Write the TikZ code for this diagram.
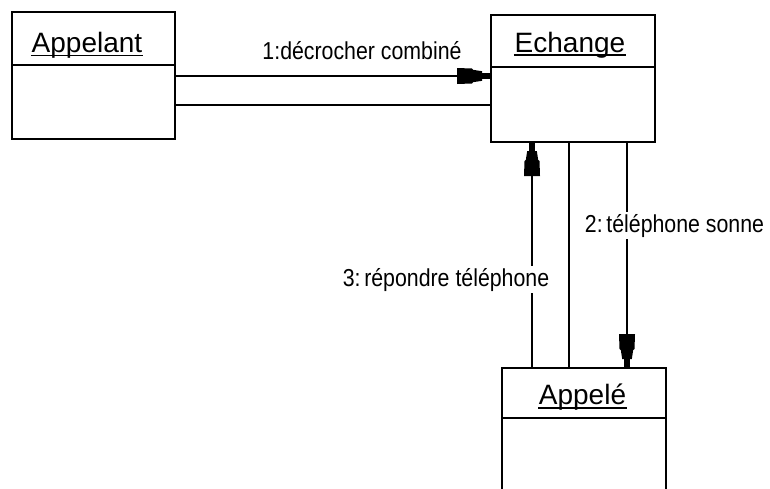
\documentclass[tikz,border=0pt]{standalone}
\usepackage{fontspec}
\setmainfont{Liberation Sans}
\newfontfamily\msgfont[FakeStretch=0.87]{Liberation Sans}
\usetikzlibrary{calc,arrows.meta}

\pgfdeclarearrow{
  name=UMLhead,
  setup code={
    \pgfarrowssettipend{0pt}
    \pgfarrowssetlineend{-2pt}
    \pgfarrowssetbackend{-34pt}
    \pgfarrowssetvisualbackend{-34pt}
    \pgfarrowshullpoint{0pt}{3pt}
    \pgfarrowshullpoint{0pt}{-3pt}
    \pgfarrowshullpoint{-34pt}{8pt}
    \pgfarrowshullpoint{-34pt}{-8pt}
  },
  drawing code={
    \pgfpathmoveto{\pgfpoint{0.5pt}{2.9pt}}
    \pgfpathlineto{\pgfpoint{-9pt}{2.9pt}}
    \pgfpathlineto{\pgfpoint{-9pt}{4.8pt}}
    \pgfpathlineto{\pgfpoint{-18pt}{6.2pt}}
    \pgfpathlineto{\pgfpoint{-19pt}{7.5pt}}
    \pgfpathlineto{\pgfpoint{-34pt}{8pt}}
    \pgfpathlineto{\pgfpoint{-34pt}{-8pt}}
    \pgfpathlineto{\pgfpoint{-19pt}{-7.5pt}}
    \pgfpathlineto{\pgfpoint{-18pt}{-6.2pt}}
    \pgfpathlineto{\pgfpoint{-9pt}{-4.8pt}}
    \pgfpathlineto{\pgfpoint{-9pt}{-2.9pt}}
    \pgfpathlineto{\pgfpoint{0.5pt}{-2.9pt}}
    \pgfpathclose
    \pgfusepathqfill
  },
}

\begin{document}
\begin{tikzpicture}[x=1pt,y=-1pt,line width=1.6pt,
  classbox/.style={draw,inner sep=0pt,outer sep=0pt,minimum width=#1,minimum height=127pt},
  classtitle/.style={font=\fontsize{28}{30}\selectfont,inner sep=0pt,anchor=base},
  msg/.style={font=\msgfont\fontsize{24.5}{26}\selectfont,inner sep=2pt,fill=white,anchor=base},
  uline/.style={line width=1.3pt},
  arr/.style={-UMLhead}
]
\clip (0,0) rectangle (770,488);
\fill[white] (0,0) rectangle (770,488);

% class boxes
\node[classbox=163pt] (appelant) at (93.5,75.5) {};
\node[classbox=164pt] (echange) at (573,78.5) {};
\node[classbox=164pt] (appele) at (584,431.5) {};

% dividers
\draw ($(appelant.north west)+(0,53)$) -- ($(appelant.north east)+(0,53)$);
\draw ($(echange.north west)+(0,52)$) -- ($(echange.north east)+(0,52)$);
\draw ($(appele.north west)+(0,50)$) -- ($(appele.north east)+(0,50)$);

% titles
\node[classtitle] (tappelant) at (87,52) {Appelant};
\draw[uline] ($(tappelant.base west)+(0,3.5)$) -- ($(tappelant.base east)+(0,3.5)$);
\node[classtitle] (techange) at (570,52) {Echange};
\draw[uline] ($(techange.base west)+(0,3)$) -- ($(techange.base east)+(0,3)$);
\node[classtitle] (tappele) at (582.5,404) {Appelé};
\draw[uline] ($(tappele.base west)+(0,4)$) -- ($(tappele.base east)+(0,4)$);

% horizontal links
\coordinate (a1) at ($(appelant.north east)+(0,64)$);
\coordinate (a2) at ($(appelant.north east)+(0,93)$);
\draw[arr] (a1) -- (a1 -| echange.west);
\draw (a2) -- (a2 -| echange.west);

% vertical links
\coordinate (e1) at ($(echange.south west)+(41,0)$);
\coordinate (e2) at ($(echange.south west)+(78,0)$);
\coordinate (e3) at ($(echange.south west)+(136,0)$);
\draw[arr] (e1 |- appele.north) -- (e1);
\draw (e2) -- (e2 |- appele.north);
\draw[arr] (e3) -- (e3 |- appele.north);

% message labels
\node[msg] (m1) at (362,59.5) {1:décrocher combiné};
\node[msg] (m2) at (674.5,232) {2:\hspace{0.15em}téléphone sonne};
\node[msg] (m3) at (446,286) {3:\hspace{0.15em}répondre téléphone};
\end{tikzpicture}
\end{document}
